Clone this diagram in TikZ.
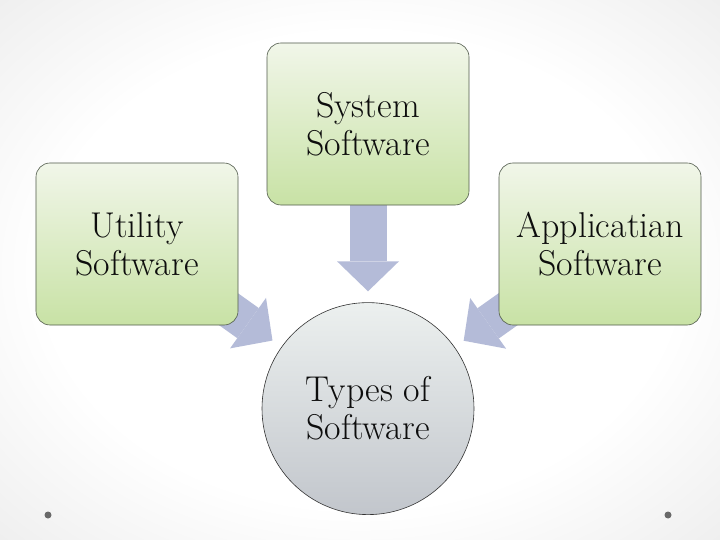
\documentclass[tikz,border=0pt]{standalone}
\usepackage{fontspec}
\usepackage{xcolor}
\usepackage{tikz}
\usetikzlibrary{positioning, arrows.meta, shapes}

\definecolor{boxtop}{RGB}{241,246,233}
\definecolor{boxbottom}{RGB}{200,226,165}
\definecolor{boxline}{RGB}{80,90,75}
\definecolor{hubtop}{RGB}{236,240,239}
\definecolor{hubbottom}{RGB}{194,198,204}
\definecolor{arrowblue}{RGB}{180,187,216}
\definecolor{dotgray}{RGB}{105,105,105}

\pgfdeclareradialshading{slide}{\pgfpoint{0bp}{0bp}}{%
  color(0bp)=(white); color(22bp)=(white); color(56bp)=(gray!32); color(75bp)=(gray!42)}

\pgfdeclarelayer{bg}
\pgfdeclarelayer{behind}
\pgfsetlayers{bg,behind,main}

\begin{document}
\begin{tikzpicture}[
    x=1bp, y=-1bp,
    % Define the style for the green boxes
    softbox/.style={
        rectangle,
        draw=boxline,
        line width=0.6bp,
        top color=boxtop,
        bottom color=boxbottom,
        align=center,
        minimum width=202bp, % same size for all three boxes
        minimum height=162bp,
        rounded corners=14bp,
        text=black!95,
        font=\fontsize{36}{38}\selectfont
    },
    % Define the style for the centre circle
    hub/.style={
        circle,
        draw=black!80,
        line width=0.6bp,
        top color=hubtop,
        bottom color=hubbottom,
        align=center,
        minimum size=212bp,
        inner sep=0pt,
        text=black!95,
        font=\fontsize{36}{38}\selectfont
    },
    % Define style for block arrows
    arrow/.style={
        arrowblue,
        line width=37bp,
        -{Triangle[length=30bp, width=62bp, line width=0pt]},
        shorten >=11bp
    }
]

\useasboundingbox (0,0) rectangle (720,540);

% Background
\begin{pgfonlayer}{bg}
\shade [shading=slide] (0,0) rectangle (720,540);
\fill [dotgray] (48,515) circle (3.5bp);
\fill [dotgray] (668,515) circle (3.5bp);
\end{pgfonlayer}

% 1. System Software
\node (sys) [softbox] at (368,124) {System\\Software};

% 2. Utility Software
\node (utl) [softbox] at (137,244) {Utility\\Software};

% 3. Applicatian Software
\node (app) [softbox] at (600,244) {Applicatian\\Software};

% 4. Types of Software
\node (circ) [hub, below=97bp of sys] {Types of\\Software};

% Draw block arrows behind the boxes
\begin{pgfonlayer}{behind}
\draw [arrow] (sys.center) -- (circ);
\draw [arrow] (utl.center) -- (circ);
\draw [arrow] (app.center) -- (circ);
\end{pgfonlayer}

\end{tikzpicture}
\end{document}
